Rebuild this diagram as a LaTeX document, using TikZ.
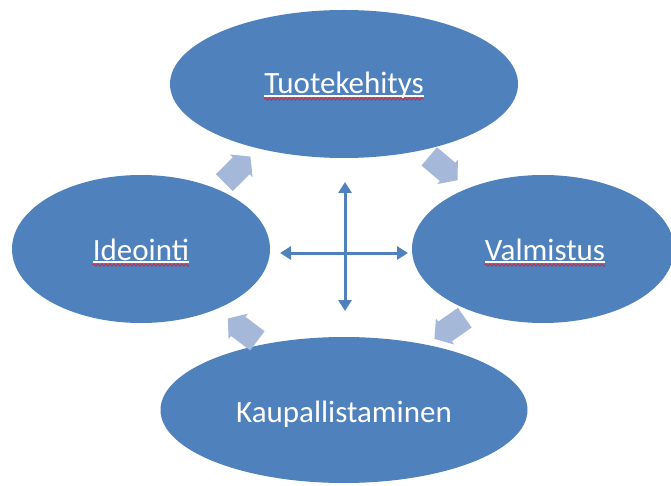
\documentclass[tikz,border=0pt]{standalone}
\usepackage{fontspec}
\setmainfont{Carlito}
\usetikzlibrary{shapes.geometric,arrows.meta,decorations.pathmorphing}
\definecolor{ellblue}{HTML}{4F81BD}
\definecolor{chunk}{HTML}{A6B8DA}
\definecolor{spellred}{HTML}{C0304A}
\tikzset{
  stage/.style={ellipse, fill=ellblue, draw=none, inner sep=0pt},
  lbl/.style={text=white, font=\fontsize{31}{31}\selectfont, inner sep=0pt, anchor=base},
  ulwhite/.style={draw=white, line width=1.2pt},
  ulred/.style={draw=spellred, line width=0.9pt, decorate, decoration={snake, amplitude=1.2pt, segment length=4pt}},
  crossarrow/.style={draw=ellblue, line width=3pt, {Triangle[length=11pt,width=13pt]}-{Triangle[length=11pt,width=13pt]}},
  chunky/.style={fill=chunk, draw=none}
}
\newcommand{\chunkyarrow}[3]{%
  \fill[chunky, shift={(#1,#2)}, rotate=#3]
    (-18,-12) -- (6,-12) -- (6,-16) -- (19,0) -- (6,16) -- (6,12) -- (-18,12) -- cycle;}
\begin{document}
\begin{tikzpicture}[x=1pt,y=1pt]
\useasboundingbox (0,0) rectangle (671,485);
% stages
\node[stage, minimum width=348pt, minimum height=148pt] (top) at (344,401) {};
\node[stage, minimum width=258pt, minimum height=148pt] (left) at (141,236) {};
\node[stage, minimum width=262pt, minimum height=148pt] (right) at (543,236) {};
\node[stage, minimum width=367pt, minimum height=146pt] (bottom) at (344,75) {};
% labels
\node[lbl] (ttop) at ([yshift=-10pt]top.center) {Tuotekehitys};
\node[lbl] (tleft) at ([yshift=-11pt]left.center) {Ideointi};
\node[lbl] (tright) at ([xshift=2pt,yshift=-11pt]right.center) {Valmistus};
\node[lbl] (tbottom) at ([yshift=-12pt]bottom.center) {Kaupallistaminen};
% underlines (hyperlink + spell check)
\foreach \t in {ttop,tleft,tright}{
  \draw[ulwhite] ([yshift=-2pt]\t.base west) -- ([yshift=-2pt]\t.base east);
  \draw[ulred] ([yshift=-5pt]\t.base west) -- ([yshift=-5pt]\t.base east);
}
% cross
\coordinate (c) at (345,232);
\coordinate (cl) at (280,232);
\coordinate (cr) at (408,232);
\coordinate (cu) at (345,303);
\coordinate (cd) at (345,174);
\draw[crossarrow] (cl) -- (cr);
\draw[crossarrow] (cd) -- (cu);
% cycle arrows
\chunkyarrow{237}{315}{45}
\chunkyarrow{443}{317}{-40}
\chunkyarrow{450}{157}{-145}
\chunkyarrow{243}{155}{143}
\end{tikzpicture}
\end{document}
